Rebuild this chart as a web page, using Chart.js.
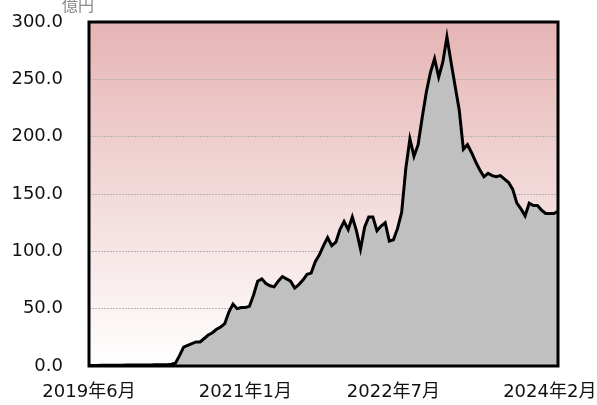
<!DOCTYPE html>
<html>
<head>
<meta charset="utf-8">
<script src="https://cdn.jsdelivr.net/npm/chart.js@4/dist/chart.umd.min.js"></script>
<style>
  html, body { margin: 0; padding: 0; background: #fff; }
  #wrap { width: 597px; height: 405px; }
</style>
</head>
<body>
<div id="wrap"><canvas id="myChart" width="597" height="405"></canvas></div>
<script>
// half-month steps from 2019年6月 to 2024年3月
startYear = 2019;
startMonth = 6;
tickLabels = ["2019年6月", "2021年1月", "2022年7月", "2024年2月"];
unitLabel = "億円";

values = [
  0.5, 0.5, 0.5, 0.6, 0.6, 0.6, 0.7, 0.7, 0.7, 0.8,
  0.8, 0.8, 0.8, 0.9, 0.9, 0.9, 1.0, 1.0, 1.0, 1.2,
  1.5, 2.5, 9, 16.5, 18, 19.5, 21, 21, 24, 27,
  29, 32, 34, 37, 47, 54, 50, 51, 51, 52,
  62, 74, 76, 72, 70, 69, 74, 78, 76, 74,
  68, 71, 75, 80, 81, 91, 97, 105, 112, 105,
  108, 119, 126, 119, 130, 118, 102, 121, 130, 130,
  118, 122, 125, 109, 110, 120, 134, 172, 198, 183,
  193, 217, 239, 256, 268, 252, 265, 287, 265, 244,
  223, 189, 193, 186, 178, 171, 165, 168, 166, 165,
  166, 163, 160, 154, 142, 137, 131, 142, 140, 140,
  136, 133, 133, 133, 135
];

labels = [];
for (i = 0; i < values.length; i++) {
  m = startMonth - 1 + Math.floor(i / 2);
  y = startYear + Math.floor(m / 12);
  name = y + "年" + ((m % 12) + 1) + "月";
  labels.push(i % 2 == 0 ? name : name + "後半");
}

bgPlugin = {
  id: "plotBg",
  beforeDraw: function (chart) {
    let a = chart.chartArea;
    let ctx = chart.ctx;
    let g = ctx.createLinearGradient(0, a.top, 0, a.bottom);
    g.addColorStop(0, "#e6b4b4");
    g.addColorStop(1, "#ffffff");
    ctx.save();
    ctx.fillStyle = g;
    ctx.fillRect(a.left, a.top, a.right - a.left, a.bottom - a.top);
    ctx.restore();
  },
  afterDraw: function (chart) {
    let a = chart.chartArea;
    let ctx = chart.ctx;
    ctx.save();
    ctx.strokeStyle = "#000";
    ctx.lineWidth = 3;
    ctx.strokeRect(a.left, a.top, a.right - a.left, a.bottom - a.top);
    ctx.fillStyle = "#888";
    ctx.font = "16px 'Noto Sans CJK JP'";
    ctx.textBaseline = "alphabetic";
    ctx.textAlign = "left";
    ctx.fillText(unitLabel, 62, 11);
    ctx.restore();
  },
};

config = {
  type: "line",
  data: {
    labels: labels,
    datasets: [
      {
        data: values,
        borderColor: "#000",
        borderWidth: 3,
        backgroundColor: "#c0c0c0",
        fill: "origin",
        pointRadius: 0,
        tension: 0,
      },
    ],
  },
  options: {
    responsive: false,
    animation: false,
    layout: { padding: { top: 22, right: 39, left: 0, bottom: 0 } },
    plugins: {
      legend: { display: false },
      tooltip: { enabled: false },
    },
    scales: {
      x: {
        offset: false,
        grid: { display: false },
        border: { display: false },
        ticks: {
          autoSkip: false,
          maxRotation: 0,
          padding: 8,
          color: "#111",
          font: { family: "'DejaVu Sans', 'Noto Sans CJK JP'", size: 18 },
          callback: function (val, idx) {
            let l = labels[idx];
            return tickLabels.indexOf(l) >= 0 ? l : "";
          },
        },
        afterFit: function (scale) {
          scale.height = 39;
          scale.paddingLeft = 0;
          scale.paddingRight = 0;
        },
      },
      y: {
        min: 0,
        max: 300,
        grid: {
          color: "#b4b4b4",
          lineWidth: 1,
          drawTicks: false,
        },
        border: { display: false, dash: [2, 1] },
        ticks: {
          stepSize: 50,
          padding: 26,
          color: "#111",
          font: { family: "'DejaVu Sans'", size: 18 },
          callback: function (v) {
            return v.toFixed(1);
          },
        },
        afterFit: function (scale) {
          scale.width = 89;
          scale.paddingTop = 0;
          scale.paddingBottom = 0;
        },
      },
    },
  },
  plugins: [bgPlugin],
};

myChart = new Chart(document.getElementById("myChart"), config);
</script>
</body>
</html>
